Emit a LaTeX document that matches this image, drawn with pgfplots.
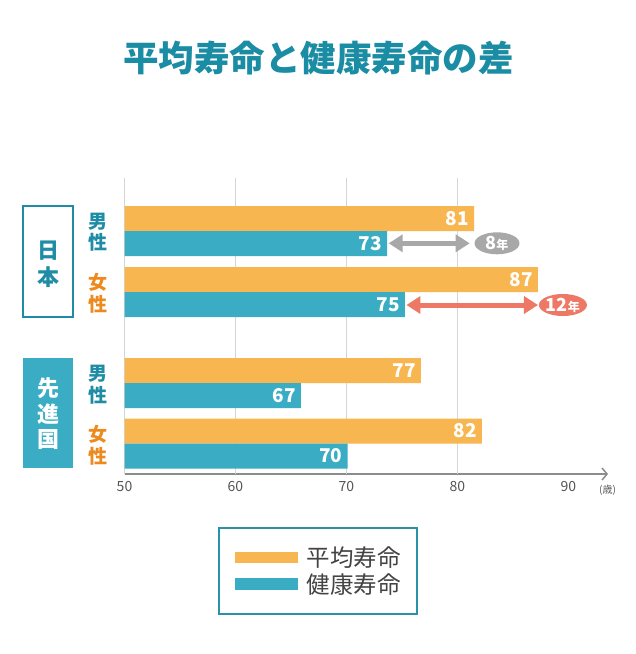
\documentclass[border=0pt]{standalone}
\usepackage{fontspec}
\setmainfont{Noto Sans CJK JP}
\usepackage{pgfplots}
\pgfplotsset{compat=1.18}
\usetikzlibrary{arrows.meta,shapes.geometric}
\definecolor{orangebar}{HTML}{F8B650}
\definecolor{tealbar}{HTML}{3AADC4}
\definecolor{titleteal}{HTML}{1A8CA3}
\definecolor{maleteal}{HTML}{1F8CA6}
\definecolor{femaleorange}{HTML}{EC8A1E}
\definecolor{arrowgray}{HTML}{A8A8A8}
\definecolor{arrowred}{HTML}{EE7866}
\definecolor{gridgray}{HTML}{D5D5D5}
\definecolor{axisgray}{HTML}{8C8C8C}
\definecolor{labelgray}{HTML}{555555}
\definecolor{legendtext}{HTML}{444444}
\definecolor{legendborder}{HTML}{2A92A8}
\begin{document}
\begin{tikzpicture}
\path[use as bounding box, fill=white] (0pt,0pt) rectangle (636pt,-654pt);
\node[font=\bfseries\fontsize{35.5}{35.5}\selectfont, text=titleteal] at (318.5pt,-58.5pt) {平均寿命と健康寿命の差};
\begin{axis}[
  at={(124.5pt,-474pt)}, anchor=south west,
  scale only axis, width=483.5pt, height=296pt,
  xmin=50, xmax=93.56, ymin=0, ymax=296,
  axis x line*=bottom, axis y line=none,
  xtick={50,60,70,80,90}, major tick length=0pt,
  extra x ticks={50,60,70,80},
  extra x tick style={grid=major, xticklabel={}},
  major grid style={draw=gridgray, line width=1.5pt},
  x axis line style={draw=axisgray, line width=1.5pt, -{Straight Barb[length=5pt,width=12pt]}},
  /pgf/number format/assume math mode=true,
  xticklabel style={font=\fontsize{14}{14}\selectfont, text=labelgray, anchor=center, yshift=-12.7pt, inner sep=0pt},
  legend style={at={(0.1934,-0.1791)}, anchor=north west, draw=legendborder, line width=1.5pt, fill=white,
    inner xsep=16pt, inner ysep=19pt, font=\fontsize{23.5}{23.5}\selectfont, text=legendtext,
    row sep=5.5pt, nodes={inner sep=0pt}},
  legend cell align=left,
]
\addplot[xbar, bar width=25pt, bar shift=0pt, fill=orangebar, draw=none,
  point meta=explicit symbolic, nodes near coords,
  every node near coord/.append style={anchor=east, xshift=-5pt, inner sep=0pt, text=white, font=\bfseries\fontsize{19}{19}\selectfont},
  legend image code/.code={\fill[orangebar] (0pt,-5.5pt) rectangle (63pt,5.5pt); \path (72pt,0pt);}]
  coordinates {(81.5,255.5) [81] (87.25,194.5) [87] (76.7,103.5) [77] (82.2,43) [82]};
\addlegendentry{平均寿命\hspace{4pt}}
\addplot[xbar, bar width=25pt, bar shift=0pt, fill=tealbar, draw=none,
  point meta=explicit symbolic, nodes near coords,
  every node near coord/.append style={anchor=east, xshift=-5pt, inner sep=0pt, text=white, font=\bfseries\fontsize{19}{19}\selectfont},
  legend image code/.code={\fill[tealbar] (0pt,-6pt) rectangle (63pt,6pt); \path (72pt,0pt);}]
  coordinates {(73.65,230.5) [73] (75.27,169.5) [75] (65.9,78.5) [67] (70.1,18) [70]};
\addlegendentry{健康寿命\hspace{4pt}}
\addplot[forget plot, draw=arrowgray, line width=5pt, {Triangle[length=14pt,width=17pt]}-{Triangle[length=14pt,width=17pt]}]
  coordinates {(73.8,230.7) (81.1,230.7)};
\addplot[forget plot, draw=arrowred, line width=5pt, {Triangle[length=14pt,width=17pt]}-{Triangle[length=14pt,width=17pt]}]
  coordinates {(75.4,169) (87.25,169)};
\node[ellipse, fill=arrowgray, minimum width=45pt, minimum height=22pt, inner sep=0pt, text=white, font=\bfseries]
  at (axis cs:83.56,230.7) {{\fontsize{18}{18}\selectfont 8}{\fontsize{12}{12}\selectfont 年}};
\node[ellipse, fill=arrowred, minimum width=47pt, minimum height=22pt, inner sep=0pt, text=white, font=\bfseries]
  at (axis cs:89.5,169) {{\fontsize{18}{18}\selectfont 12}{\fontsize{12}{12}\selectfont 年}};
\end{axis}
\node[font=\fontsize{10}{10}\selectfont, text=labelgray] at (607.5pt,-490.5pt) {(歳)};
% group labels
\draw[draw=maleteal, line width=2pt, fill=white] (23pt,-206pt) rectangle (73pt,-317pt);
\node[font=\bfseries\fontsize{22}{27}\selectfont, text=maleteal, align=center] at (48pt,-264.5pt) {日\\本};
\fill[tealbar] (23pt,-358pt) rectangle (73pt,-468pt);
\node[font=\bfseries\fontsize{22}{25.5}\selectfont, text=white, align=center] at (48pt,-414pt) {先\\進\\国};
\node[font=\bfseries\fontsize{19}{21.5}\selectfont, text=maleteal, align=center] at (98pt,-232pt) {男\\性};
\node[font=\bfseries\fontsize{19}{21.5}\selectfont, text=femaleorange, align=center] at (98pt,-293.5pt) {女\\性};
\node[font=\bfseries\fontsize{19}{21.5}\selectfont, text=maleteal, align=center] at (98pt,-384.5pt) {男\\性};
\node[font=\bfseries\fontsize{19}{21.5}\selectfont, text=femaleorange, align=center] at (98pt,-445.5pt) {女\\性};
\end{tikzpicture}
\end{document}
